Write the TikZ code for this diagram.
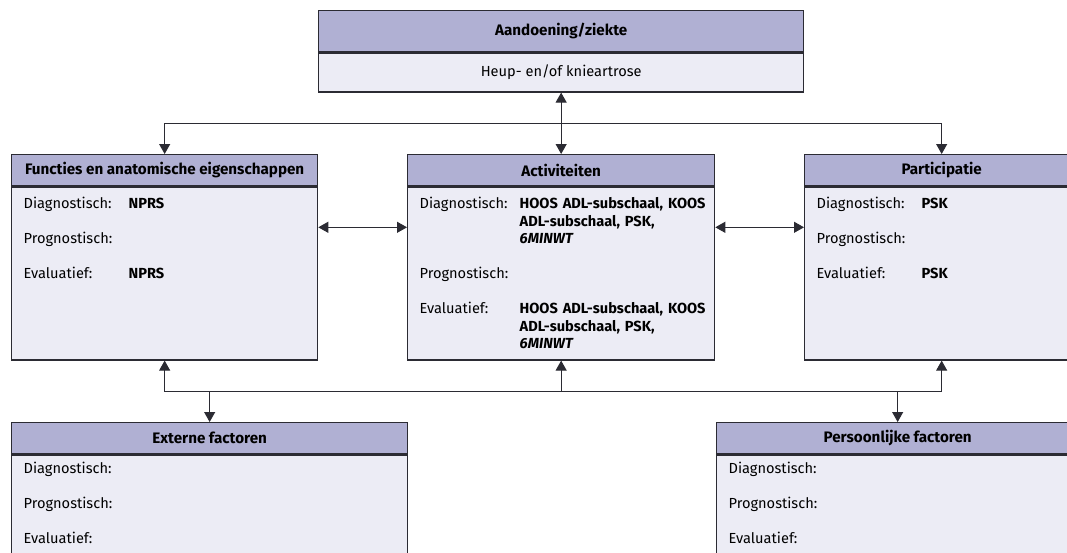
\documentclass[tikz,border=0pt]{standalone}
\usepackage{fontspec}
\setmainfont{Fira Sans}
\usetikzlibrary{arrows.meta,positioning,calc}
\definecolor{rand}{HTML}{2B2B33}
\definecolor{kopkleur}{HTML}{B0B0D3}
\definecolor{vlak}{HTML}{ECECF5}
\newcommand{\tekstmaat}{\fontsize{14.6}{17.5}\selectfont}
\newcommand{\kopmaat}{\fontsize{15.2}{17.5}\selectfont}
\tikzset{
    kop/.style={draw=rand,fill=kopkleur,line width=1.3pt,font=\kopmaat\bfseries,minimum height=31pt,inner sep=0pt,anchor=north west},
    veld/.style={draw=rand,fill=vlak,line width=1.3pt,font=\tekstmaat,align=left,inner xsep=12pt,inner ysep=0pt,text height=22pt},
    pijl/.style={-{Triangle[length=10pt,width=11pt]},line width=1pt,draw=rand},
    dubbel/.style={{Triangle[length=10pt,width=11pt]}-{Triangle[length=10pt,width=11pt]},line width=1pt,draw=rand}
}

\begin{document}
\begin{tikzpicture}[x=1pt,y=-1pt]
    \clip (0,0) rectangle (1067,552);
    % aandoening
    \node[kop,minimum width=485pt,minimum height=41pt] (htop) at (318,10) {Aandoening/ziekte};
    \node[veld,below=0pt of htop,minimum width=485pt,minimum height=39pt,text height=,align=center] (btop) {Heup- en/of knieartrose};
    % middelste rij
    \node[kop,minimum width=306pt] (hleft) at (11,154) {Functies en anatomische eigenschappen};
    \node[veld,below=0pt of hleft,text width=282pt,text depth=151pt] (bleft) {%
        \begin{tabular}[t]{@{}p{105pt}@{}l@{}}
        Diagnostisch: & \textbf{NPRS}\\[17.5pt]
        Prognostisch: & \\[17.5pt]
        Evaluatief: & \textbf{NPRS}
        \end{tabular}};
    \node[kop,minimum width=307pt] (hmid) at (407,154) {Activiteiten};
    \node[veld,below=0pt of hmid,text width=283pt,text depth=151pt] (bmid) {%
        \begin{tabular}[t]{@{}p{100pt}@{}l@{}}
        Diagnostisch: & \textbf{HOOS ADL-subschaal, KOOS}\\
         & \textbf{ADL-subschaal, PSK,}\\
         & \textbf{\textit{6MINWT}}\\[17.5pt]
        Prognostisch: & \\[17.5pt]
        Evaluatief: & \textbf{HOOS ADL-subschaal, KOOS}\\
         & \textbf{ADL-subschaal, PSK,}\\
         & \textbf{\textit{6MINWT}}
        \end{tabular}};
    \node[kop,minimum width=274pt] (hright) at (804,154) {Participatie};
    \node[veld,below=0pt of hright,text width=250pt,text depth=151pt] (bright) {%
        \begin{tabular}[t]{@{}p{105pt}@{}l@{}}
        Diagnostisch: & \textbf{PSK}\\[17.5pt]
        Prognostisch: & \\[17.5pt]
        Evaluatief: & \textbf{PSK}
        \end{tabular}};
    % factoren
    \node[kop,minimum width=396pt] (hext) at (11,422) {Externe factoren};
    \node[veld,below=0pt of hext,text width=372pt,text height=18.5pt,text depth=120pt] (bext) {%
        \begin{tabular}[t]{@{}l@{}}
        Diagnostisch:\\[17.5pt]
        Prognostisch:\\[17.5pt]
        Evaluatief:
        \end{tabular}};
    \node[kop,minimum width=362pt] (hpers) at (716,422) {Persoonlijke factoren};
    \node[veld,below=0pt of hpers,text width=338pt,text height=18.5pt,text depth=120pt] (bpers) {%
        \begin{tabular}[t]{@{}l@{}}
        Diagnostisch:\\[17.5pt]
        Prognostisch:\\[17.5pt]
        Evaluatief:
        \end{tabular}};
    % verbindingen boven
    \coordinate (boven) at ($(btop.south)!0.5!(hmid.north)$);
    \draw[dubbel] (btop.south) -- (hmid.north);
    \draw[pijl] (boven) -| (hleft.north);
    \draw[pijl] (boven) -| (hright.north);
    % zijwaarts
    \path (bleft.north east) ++(0,41) coordinate (zij);
    \draw[dubbel] (zij) -- (zij -| bmid.west);
    \draw[dubbel] (zij -| bmid.east) -- (zij -| bright.west);
    % verbindingen onder
    \coordinate (onder) at ($(bmid.south)!0.5!(hext.north)$);
    \draw[pijl] (bmid.south |- onder) -- (bmid.south);
    \draw[pijl] (hext.north |- onder) -| (bleft.south);
    \draw[pijl] (hpers.north |- onder) -| (bright.south);
    \draw[rand,line width=1pt] (hext.north |- onder) -- (hpers.north |- onder);
    \draw[pijl] (hext.north |- onder) -- (hext.north);
    \draw[pijl] (hpers.north |- onder) -- (hpers.north);
\end{tikzpicture}
\end{document}
